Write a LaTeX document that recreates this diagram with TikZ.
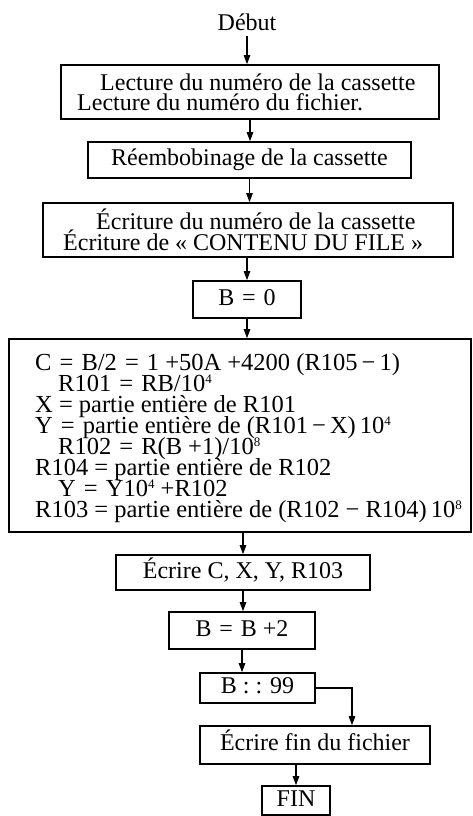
\documentclass[tikz,border=0pt]{standalone}
\usepackage{fontspec}
\setmainfont{Liberation Serif}
\usetikzlibrary{arrows.meta}
\newcommand\diafont{\fontsize{24}{21}\selectfont}
\newcommand\bigfont{\fontsize{24.5}{21}\selectfont}
\newcommand\exps[1]{\raisebox{0.3em}{\fontsize{13}{13}\selectfont #1}}
\newcommand\eqs{\hspace{0.33em}=\hspace{0.33em}}
\begin{document}
\begin{tikzpicture}[x=1pt,y=-1pt,
  box/.style={draw, line width=1.7pt, inner sep=0pt, text height=16pt, text depth=5pt, font=\diafont},
  txt/.style={inner sep=0pt, anchor=base west, font=\diafont, text height=14pt, text depth=4pt},
  gtxt/.style={txt, font=\bigfont},
  arr/.style={line width=1.1pt, -{Triangle[length=9pt,width=6.5pt]}},
]
\useasboundingbox (0,0) rectangle (472,816);
% start
\node[font=\diafont, inner sep=0pt, text height=16pt, text depth=5pt] (debut) at (247,25) {Début};
% box 1
\node[box, minimum width=378pt, minimum height=54pt] (b1) at (250,92) {};
\node[txt] (b1a) at (100,90) {Lecture du numéro de la cassette};
\node[txt] (b1b) at (77,110) {Lecture du numéro du fichier.};
% box 2
\node[box, minimum width=323pt, minimum height=36pt] (b2) at (249.5,160) {Réembobinage de la cassette};
% box 3
\node[box, minimum width=410pt, minimum height=54pt] (b3) at (248,230) {};
\node[txt] (b3a) at (96,229) {Écriture du numéro de la cassette};
\node[txt] (b3b) at (63,250) {Écriture de « CONTENU DU FILE »};
% B = 0
\node[box, minimum width=108pt, minimum height=37pt] (b0) at (247,299.5) {B\eqs 0};
% big box
\node[box, minimum width=462pt, minimum height=193pt] (big) at (240,435.5) {};
\node[gtxt] (g1) at (35,370) {C\eqs B/2\eqs 1 +50A +4200 (R105\,−\,1)};
\node[gtxt] (g2) at (58,391) {R101\eqs RB/10\exps{4}};
\node[gtxt] (g3) at (35,412) {X = partie entière de R101};
\node[gtxt] (g4) at (35,433) {Y\eqs partie entière de (R101\,−\,X)\,10\exps{4}};
\node[gtxt] (g5) at (58,454) {R102\eqs R(B +1)/10\exps{8}};
\node[gtxt] (g6) at (35,475) {R104 = partie entière de R102};
\node[gtxt] (g7) at (58,496) {Y\eqs Y10\exps{4} +R102};
\node[gtxt] (g8) at (35,517) {R103 = partie entière de (R102 − R104)\,10\exps{8}};
% lower boxes
\node[box, minimum width=254pt, minimum height=35pt] (ecr) at (243,572.5) {Écrire C, X, Y, R103};
\node[box, minimum width=146pt, minimum height=37pt] (bb2) at (242,630.5) {B\eqs B +2};
\node[box, minimum width=115pt, minimum height=30pt] (b99) at (257.5,688) {B : : 99};
\node[box, minimum width=230pt, minimum height=38pt] (fin) at (315,745) {Écrire fin du fichier};
\node[box, minimum width=68pt, minimum height=29pt] (end) at (296,800.5) {FIN};
\coordinate (fe) at (352,0);
% connectors
\draw[arr] (debut.south) -- (debut.south |- b1.north);
\draw[arr] (b1.south) -- (b1.south |- b2.north);
\draw[arr] (b2.south) -- (b2.south |- b3.north);
\draw[arr] (b3.south -| b0.north) -- (b0.north);
\draw[arr] (b0.south) -- (b0.south |- big.north);
\draw[arr] (big.south -| ecr.north) -- (ecr.north);
\draw[arr] (ecr.south) -- (ecr.south |- bb2.north);
\draw[arr] (bb2.south) -- (bb2.south |- b99.north);
\draw[arr] (b99.east) -| (fin.north -| fe);
\draw[arr] (fin.south -| end.north) -- (end.north);
\end{tikzpicture}
\end{document}
